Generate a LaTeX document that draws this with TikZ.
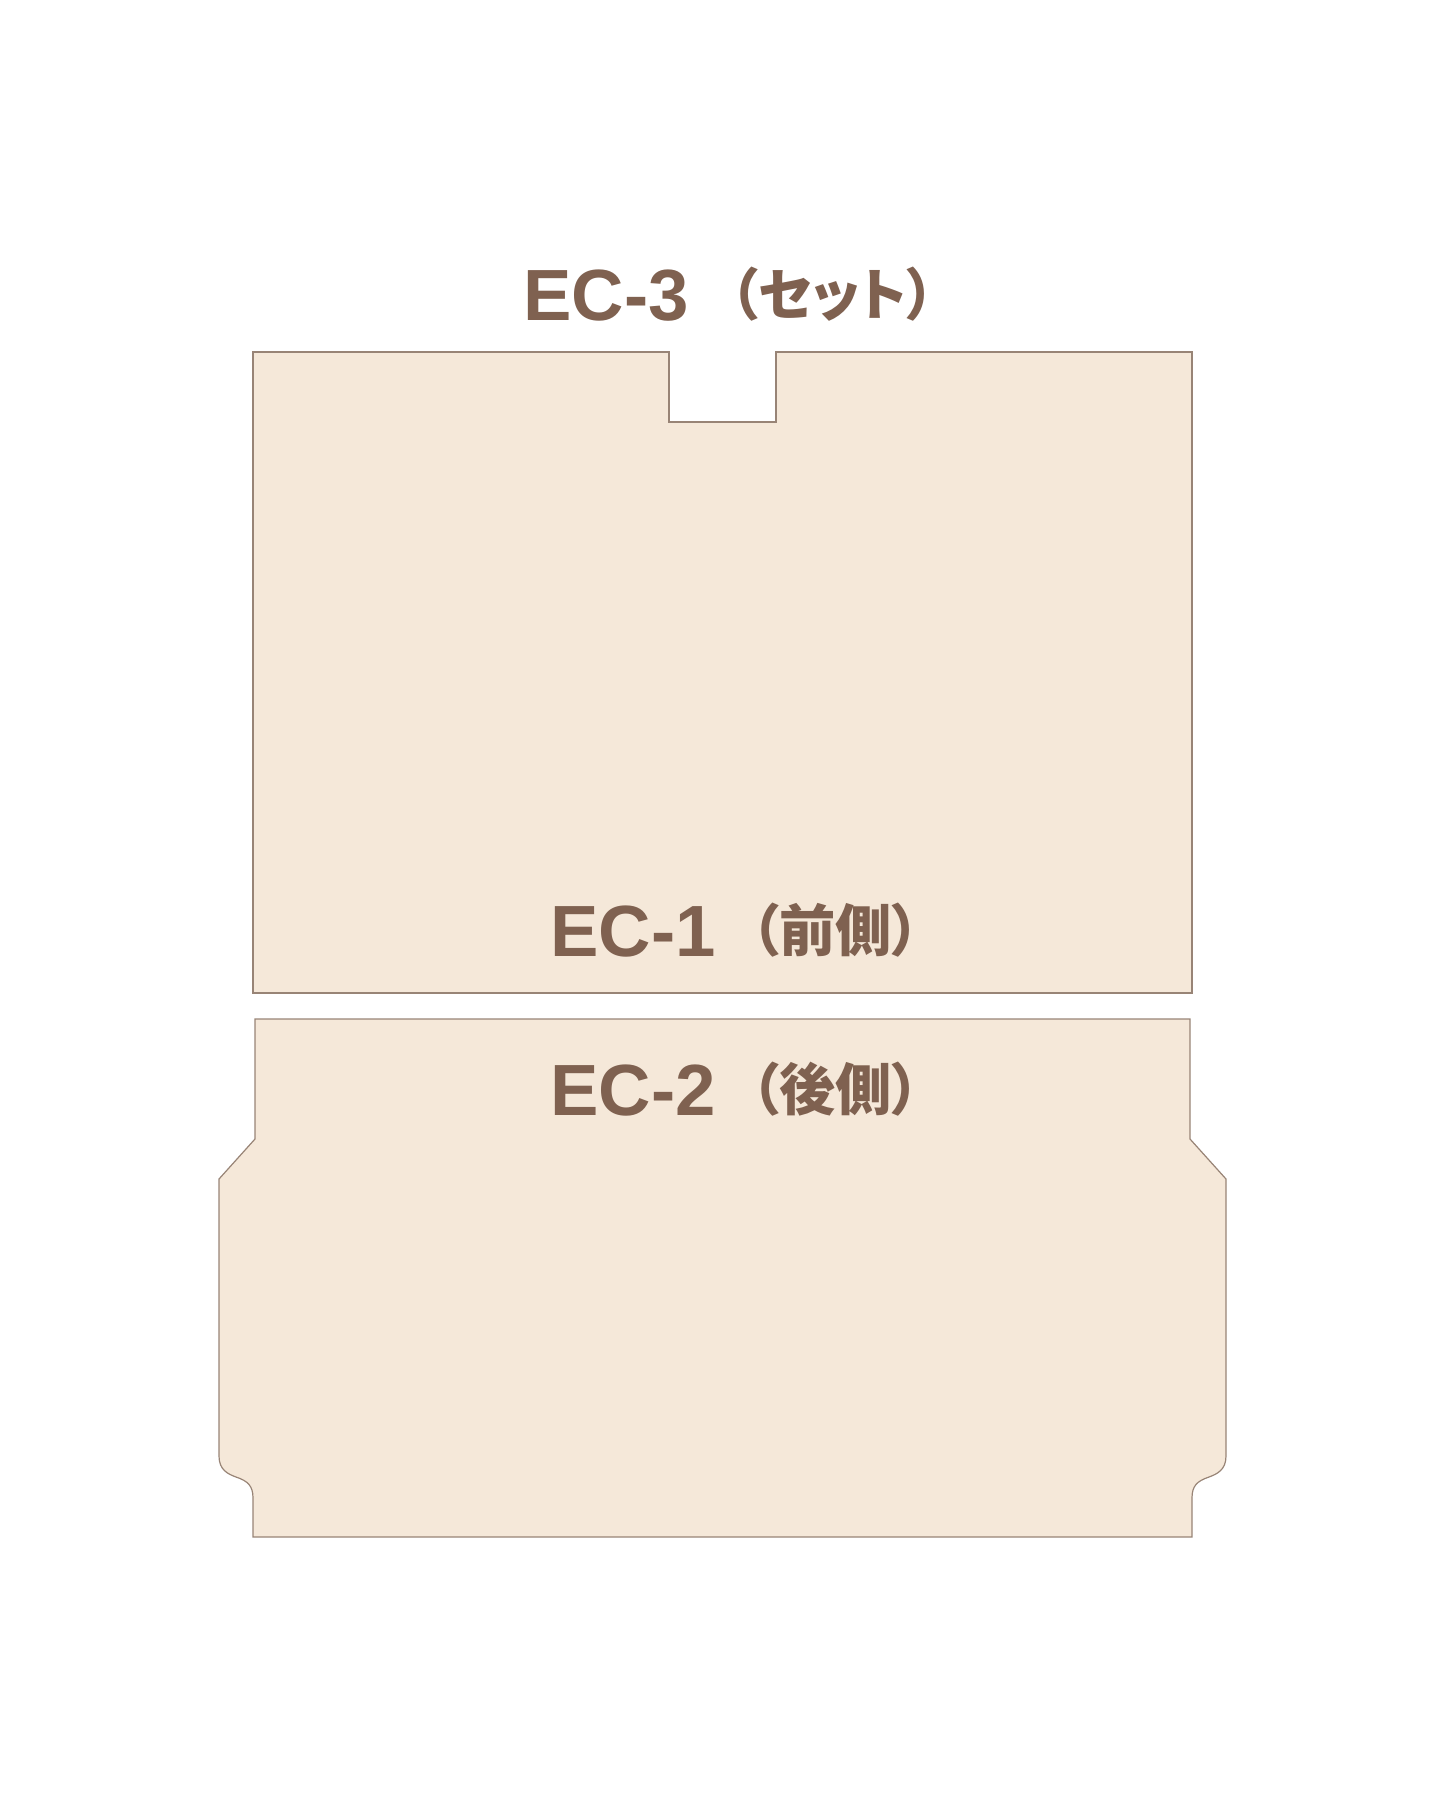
\documentclass[tikz,border=0pt]{standalone}
\usepackage{fontspec}
\usepackage{tikz}
\usetikzlibrary{positioning}
\newfontfamily\latfont{Liberation Sans}
\newfontfamily\jpfont{Noto Sans CJK JP}[RawFeature=+palt]
\definecolor{matbrown}{RGB}{127,97,80}
\definecolor{matfill}{RGB}{245,232,217}
\definecolor{matedge}{RGB}{152,132,118}
\tikzstyle{mat} = [draw=matedge, fill=matfill, line width=0.3mm, line join=miter]
\tikzstyle{partname} = [inner sep=0pt, anchor=base west, text=matbrown]
\newcommand{\matlabel}[3]{{\latfont\bfseries\fontsize{51.6}{60}\selectfont #1}\hspace{#3}{\jpfont\bfseries\fontsize{40}{48}\selectfont\raisebox{0.08em}{#2}}}

\begin{document}
\begin{tikzpicture}[x=0.25mm, y=-0.25mm]
    \useasboundingbox (0,0) rectangle (1445,1806);

    % EC-1 (front) with the notch on top
    \draw [mat] (253,352) -- (669,352) -- (669,422) -- (776,422) -- (776,352)
        -- (1192,352) -- (1192,993) -- (253,993) -- cycle;

    % EC-2 (rear)
    \draw [mat] (255,1019) -- (1190,1019) -- (1190,1139) -- (1226,1179) -- (1226,1456)
        .. controls (1226,1470) and (1217,1474) .. (1209,1477)
        .. controls (1197,1481) and (1192,1486) .. (1192,1498)
        -- (1192,1537) -- (253,1537) -- (253,1498)
        .. controls (253,1486) and (248,1481) .. (236,1477)
        .. controls (228,1474) and (219,1470) .. (219,1456)
        -- (219,1179) -- (255,1139) -- cycle;

    % Place nodes
    \node [partname] (ec3) at (523,320) {\matlabel{EC-3}{（セット）}{10.5mm}};
    \node [partname] (ec1) at (550,956) {\matlabel{EC-1}{（前側）}{9mm}};
    \node [partname] (ec2) at (550,1115) {\matlabel{EC-2}{（後側）}{9mm}};
\end{tikzpicture}
\end{document}
